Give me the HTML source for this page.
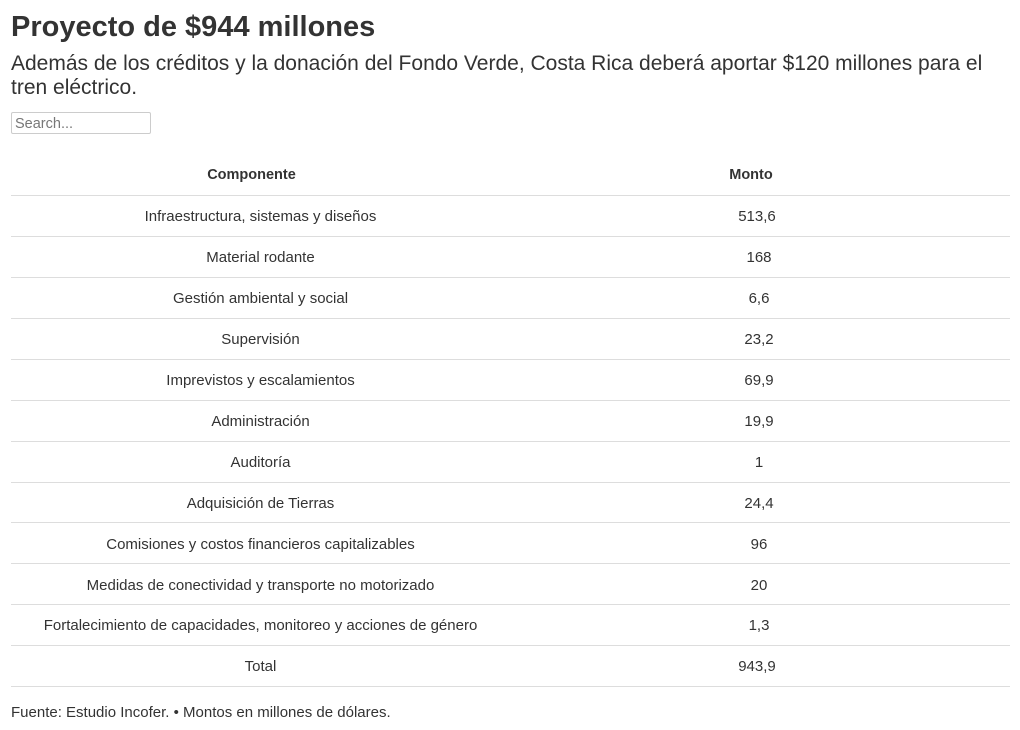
<!DOCTYPE html>
<html><head><meta charset="utf-8">
<style>
body{margin:0;width:1020px;height:730px;background:#fff;font-family:"Liberation Sans",sans-serif;color:#333;position:relative;overflow:hidden}
.a{position:absolute;white-space:nowrap}
h1{position:absolute;left:11px;top:11px;margin:0;font-size:29px;font-weight:bold;color:#333;white-space:nowrap}
.sub{left:11px;top:52px;font-size:21px;line-height:24px;color:#333}
.search{left:11px;top:112px;height:22px;border:1px solid #ccc;border-radius:2px;font-size:14.5px;color:#777;line-height:22px;padding-left:3px;box-sizing:border-box;width:140px}
.c1{left:11px;width:499px;text-align:center;font-size:15px;margin-top:1px}
.c2{left:510px;width:500px;text-align:center;font-size:15px;margin-top:1px}
.hl{left:11px;width:999px;height:1px;background:#ddd}
.h{font-weight:bold;color:#333;font-size:14.5px;margin-top:2px}
.foot{left:11px;top:704px;font-size:15px;color:#333}
</style></head><body>
<h1>Proyecto de $944 millones</h1>
<div class="a sub">Además de los créditos y la donación del Fondo Verde, Costa Rica deberá aportar $120 millones para el<br>tren eléctrico.</div>
<div class="a search">Search...</div>
<div class="a c1 h" style="top:165px;left:2px">Componente</div>
<div class="a c2 h" style="top:165px;left:501px">Monto</div>
<div class="a hl" style="top:195px"></div>

<div class="a c1" style="top:207px">Infraestructura, sistemas y diseños</div><div class="a c2" style="top:207px;left:507px">513,6</div><div class="a hl" style="top:236px"></div>
<div class="a c1" style="top:248px">Material rodante</div><div class="a c2" style="top:248px;left:509px">168</div><div class="a hl" style="top:277px"></div>
<div class="a c1" style="top:289px">Gestión ambiental y social</div><div class="a c2" style="top:289px;left:509px">6,6</div><div class="a hl" style="top:318px"></div>
<div class="a c1" style="top:330px">Supervisión</div><div class="a c2" style="top:330px;left:509px">23,2</div><div class="a hl" style="top:359px"></div>
<div class="a c1" style="top:371px">Imprevistos y escalamientos</div><div class="a c2" style="top:371px;left:509px">69,9</div><div class="a hl" style="top:400px"></div>
<div class="a c1" style="top:412px">Administración</div><div class="a c2" style="top:412px;left:509px">19,9</div><div class="a hl" style="top:441px"></div>
<div class="a c1" style="top:453px">Auditoría</div><div class="a c2" style="top:453px;left:509px">1</div><div class="a hl" style="top:482px"></div>
<div class="a c1" style="top:494px">Adquisición de Tierras</div><div class="a c2" style="top:494px;left:509px">24,4</div><div class="a hl" style="top:522px"></div>
<div class="a c1" style="top:535px">Comisiones y costos financieros capitalizables</div><div class="a c2" style="top:535px;left:509px">96</div><div class="a hl" style="top:563px"></div>
<div class="a c1" style="top:576px">Medidas de conectividad y transporte no motorizado</div><div class="a c2" style="top:576px;left:509px">20</div><div class="a hl" style="top:604px"></div>
<div class="a c1" style="top:616px">Fortalecimiento de capacidades, monitoreo y acciones de género</div><div class="a c2" style="top:616px;left:509px">1,3</div><div class="a hl" style="top:645px"></div>
<div class="a c1" style="top:657px">Total</div><div class="a c2" style="top:657px;left:507px">943,9</div><div class="a hl" style="top:686px"></div>

<div class="a foot">Fuente: Estudio Incofer. • Montos en millones de dólares.</div>
</body></html>
